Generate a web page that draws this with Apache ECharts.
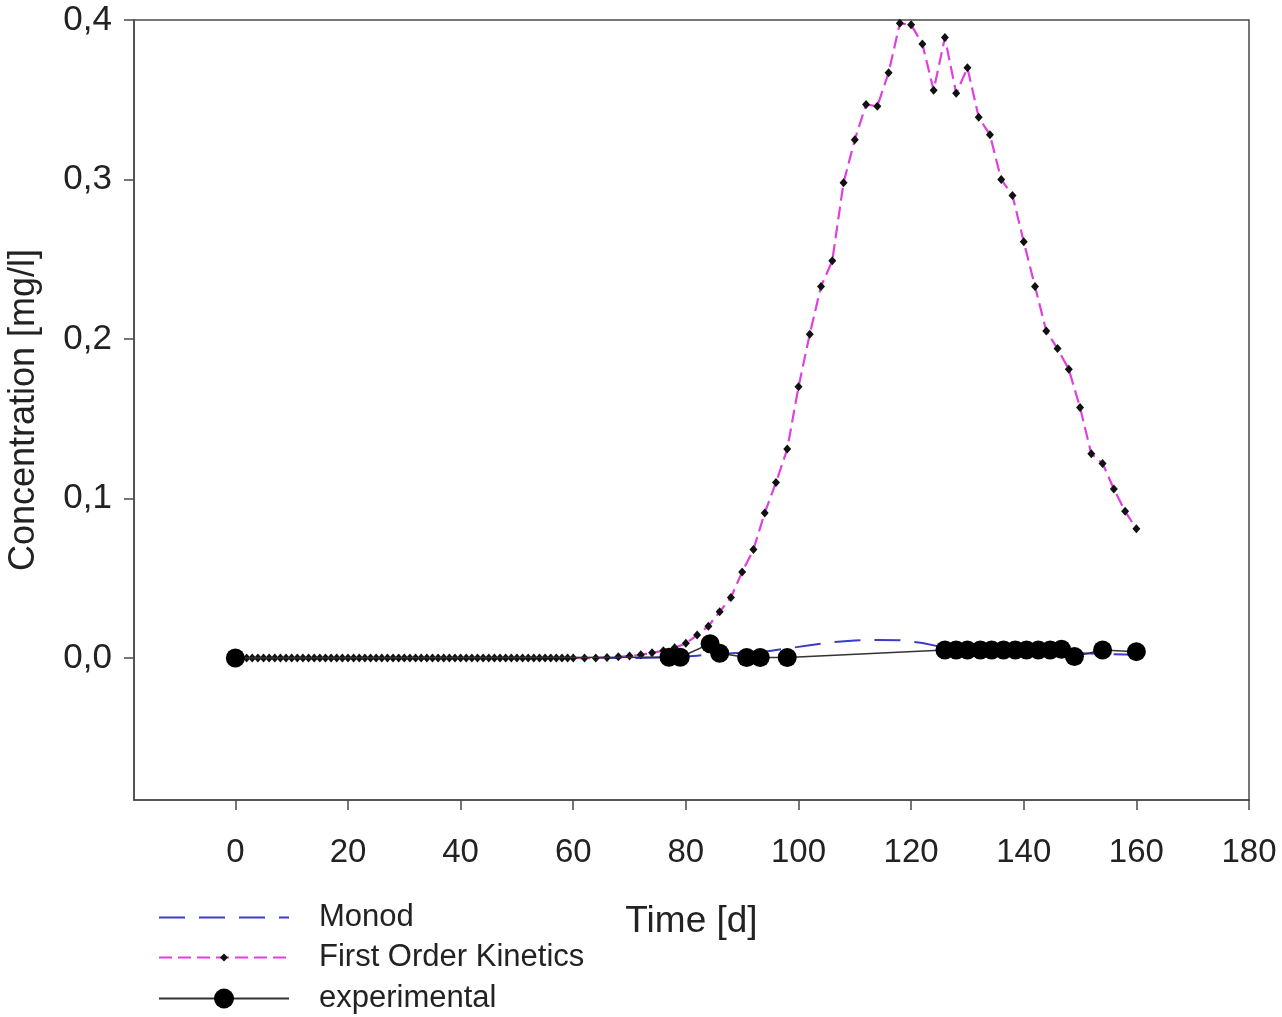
<!DOCTYPE html>
<html>
<head>
<meta charset="utf-8">
<script src="https://cdn.jsdelivr.net/npm/echarts@6/dist/echarts.min.js"></script>
<style>
html,body{margin:0;padding:0;background:#fff;}
#chart{width:1282px;height:1017px;}
</style>
</head>
<body>
<div id="chart"></div>
<script>
// ---- data ----
const xTickValues = [0, 20, 40, 60, 80, 100, 120, 140, 160, 180];
const yTickValues = [0, 0.1, 0.2, 0.3, 0.4];

const monodTime  = [0, 70, 78, 82, 86, 90, 94, 98, 102, 106, 110, 114, 118, 122, 126, 130, 140, 150, 160];
const monodValue = [0, 0, 0.0005, 0.0015, 0.0025, 0.0033, 0.004, 0.006, 0.008, 0.010, 0.011, 0.0113, 0.0112, 0.0094, 0.0065, 0.005, 0.004, 0.003, 0.002];

const fokTime = [
  0, 1, 2, 3, 4, 5, 6, 7, 8, 9, 10, 11, 12, 13, 14, 15, 16, 17, 18, 19, 20,
  21, 22, 23, 24, 25, 26, 27, 28, 29, 30, 31, 32, 33, 34, 35, 36, 37, 38, 39, 40,
  41, 42, 43, 44, 45, 46, 47, 48, 49, 50, 51, 52, 53, 54, 55, 56, 57, 58, 59, 60,
  62, 64, 66, 68, 70, 72, 74, 76, 78, 80, 82, 84, 86, 88, 90, 92, 94, 96, 98, 100,
  102, 104, 106, 108, 110, 112, 114, 116, 118, 120, 122, 124, 126, 128, 130,
  132, 134, 136, 138, 140, 142, 144, 146, 148, 150, 152, 154, 156, 158, 160
];
const fokValue = [
  0, 0, 0, 0, 0, 0, 0, 0, 0, 0, 0, 0, 0, 0, 0, 0, 0, 0, 0, 0, 0,
  0, 0, 0, 0, 0, 0, 0, 0, 0, 0, 0, 0, 0, 0, 0, 0, 0, 0, 0, 0,
  0, 0, 0, 0, 0, 0, 0, 0, 0, 0, 0, 0, 0, 0, 0, 0, 0, 0, 0, 0,
  0, 0, 0.0004, 0.0008, 0.0013, 0.002, 0.0033, 0.0045, 0.0065, 0.0092, 0.0144, 0.020, 0.029, 0.038, 0.054, 0.068, 0.091, 0.110, 0.131, 0.170,
  0.203, 0.233, 0.249, 0.298, 0.325, 0.347, 0.346, 0.367, 0.398, 0.397, 0.385, 0.356, 0.389, 0.354, 0.370,
  0.339, 0.328, 0.300, 0.290, 0.261, 0.233, 0.205, 0.194, 0.181, 0.157, 0.128, 0.122, 0.106, 0.092, 0.081
];

const expTime  = [0, 77, 79, 84.3, 86, 90.8, 93.2, 98, 126, 128, 130, 132.3, 134.3, 136.4, 138.5, 140.5, 142.6, 144.7, 146.7, 149, 154, 160];
const expValue = [0, 0.0005, 0.0005, 0.009, 0.003, 0.0003, 0.0003, 0.0003, 0.005, 0.005, 0.005, 0.005, 0.005, 0.005, 0.005, 0.005, 0.005, 0.005, 0.0055, 0.001, 0.005, 0.004];

function pairs(xs, ys) { return xs.map((x, i) => [x, ys[i]]); }

const FONT = '"Liberation Sans", Arial, sans-serif';
const AXIS_COLOR = '#4a4a4a';

const chart = echarts.init(document.getElementById('chart'), null, {renderer: 'canvas'});

const legendText = {fontSize: 31, fontFamily: FONT, color: '#222', padding: [0, 0, 0, 25]};

chart.setOption({
  animation: false,
  backgroundColor: '#fff',
  grid: {
    left: 134, right: 33, top: 20, bottom: 217,
    containLabel: false, outerBoundsMode: 'none',
    show: true, borderColor: AXIS_COLOR, borderWidth: 1.5, backgroundColor: 'transparent'
  },
  xAxis: {
    type: 'value', min: -18, max: 180,
    name: 'Time [d]', nameLocation: 'middle', nameGap: 103,
    nameTextStyle: {fontSize: 37, fontFamily: FONT, color: '#222'},
    axisLine: {show: true, onZero: false, lineStyle: {color: AXIS_COLOR, width: 1.5}},
    axisTick: {show: true, inside: false, length: 10, customValues: xTickValues, lineStyle: {color: AXIS_COLOR, width: 1.5}},
    axisLabel: {customValues: xTickValues, fontSize: 33, fontFamily: FONT, color: '#222', margin: 36},
    splitLine: {show: false}
  },
  yAxis: {
    type: 'value', min: -0.089, max: 0.4,
    name: 'Concentration [mg/l]', nameLocation: 'middle', nameGap: 92,
    nameTextStyle: {fontSize: 36, fontFamily: FONT, color: '#222'},
    axisLine: {show: true, onZero: false, lineStyle: {color: AXIS_COLOR, width: 1.5}},
    axisTick: {show: true, inside: false, length: 10, customValues: yTickValues, lineStyle: {color: AXIS_COLOR, width: 1.5}},
    axisLabel: {customValues: yTickValues, fontSize: 35, fontFamily: FONT, color: '#222', margin: 22,
      formatter: v => v.toFixed(1).replace('.', ',')},
    splitLine: {show: false}
  },
  legend: [
    {data: ['Monod'], orient: 'vertical', left: 158, top: 902, padding: 0,
     itemWidth: 130, itemHeight: 14, itemStyle: {opacity: 0}, textStyle: legendText},
    {data: ['First Order Kinetics'], orient: 'vertical', left: 158, top: 942, padding: 0,
     itemWidth: 130, itemHeight: 10, textStyle: legendText},
    {data: ['experimental'], orient: 'vertical', left: 158, top: 983, padding: 0,
     itemWidth: 130, itemHeight: 25, textStyle: legendText}
  ],
  series: [
    {
      name: 'Monod', type: 'line', data: pairs(monodTime, monodValue),
      showSymbol: false, symbol: 'none', smooth: false,
      lineStyle: {color: '#3c3cc8', width: 2, type: [26, 14]},
      itemStyle: {color: '#3c3cc8'}, z: 2
    },
    {
      name: 'First Order Kinetics', type: 'line', data: pairs(fokTime, fokValue),
      symbol: 'diamond', symbolSize: [8, 9], showSymbol: true,
      lineStyle: {color: '#e040e0', width: 2.2, type: [13, 6]},
      itemStyle: {color: '#111'}, z: 3
    },
    {
      name: 'experimental', type: 'line', data: pairs(expTime, expValue),
      symbol: 'circle', symbolSize: 19, showSymbol: true,
      lineStyle: {color: '#333', width: 1.5},
      itemStyle: {color: '#000'}, z: 4
    }
  ]
});
</script>
</body>
</html>
